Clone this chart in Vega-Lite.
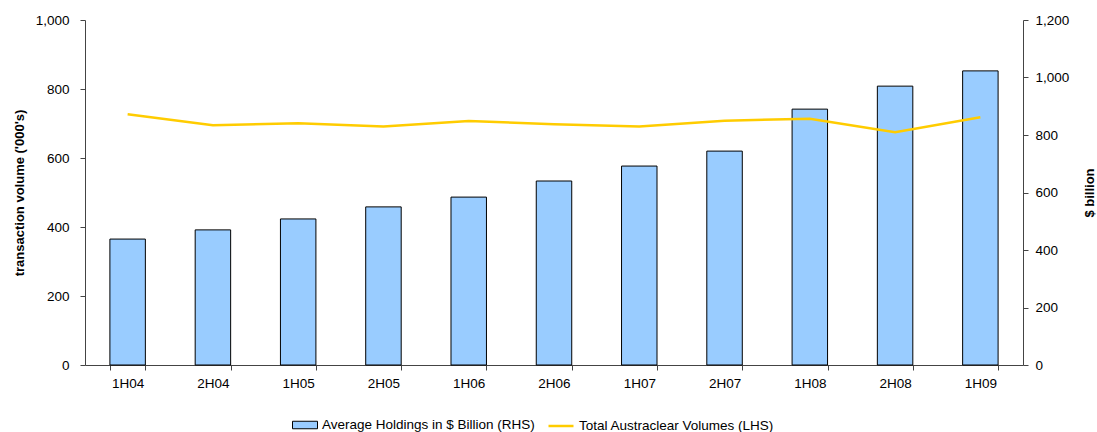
{
  "$schema": "https://vega.github.io/schema/vega-lite/v6.json",
  "width": 938,
  "height": 345,
  "autosize": {"type": "none"},
  "padding": {"left": 85, "top": 20, "right": 74, "bottom": 67},
  "background": "white",
  "config": {
    "font": "Liberation Sans",
    "view": {"stroke": null},
    "axis": {"labelFont": "Liberation Sans", "labelFontSize": 13.5, "labelColor": "#000", "titleFont": "Liberation Sans", "titleFontSize": 13, "titleFontWeight": "bold", "titleColor": "#000", "domainColor": "#444", "tickColor": "#444", "grid": false},
    "legend": {"labelFont": "Liberation Sans", "labelFontSize": 13.5, "labelColor": "#000", "labelLimit": 0, "title": null}
  },
  "data": {"values": [
    {"period": "1H04", "holdings": 438, "volume": 727},
    {"period": "2H04", "holdings": 470, "volume": 695},
    {"period": "1H05", "holdings": 508, "volume": 701},
    {"period": "2H05", "holdings": 550, "volume": 691},
    {"period": "1H06", "holdings": 584, "volume": 707},
    {"period": "2H06", "holdings": 640, "volume": 698},
    {"period": "1H07", "holdings": 692, "volume": 691},
    {"period": "2H07", "holdings": 744, "volume": 708},
    {"period": "1H08", "holdings": 890, "volume": 714},
    {"period": "2H08", "holdings": 970, "volume": 675},
    {"period": "1H09", "holdings": 1023, "volume": 718}
  ]},
  "encoding": {
    "x": {"field": "period", "type": "nominal", "sort": null,
      "scale": {"paddingInner": 0.584, "paddingOuter": 0.292},
      "axis": {"title": null, "labelAngle": 0, "tickBand": "extent", "tickSize": 5, "labelPadding": 6}}
  },
  "layer": [
    {
      "mark": {"type": "bar", "stroke": "#000", "strokeWidth": 1},
      "encoding": {
        "y": {"field": "holdings", "type": "quantitative",
          "scale": {"domain": [0, 1200]},
          "axis": {"orient": "right", "title": "$ billion", "titleAngle": 270, "titlePadding": 28, "labelPadding": 7, "format": ",.0f", "values": [0, 200, 400, 600, 800, 1000, 1200], "tickSize": 5}},
        "fill": {"datum": "Average Holdings in $ Billion (RHS)", "type": "nominal",
          "scale": {"range": ["#99CCFF"]},
          "legend": {"orient": "none", "legendX": 207, "legendY": 392, "direction": "horizontal",
            "symbolType": "M-1,-0.3L1,-0.3L1,0.3L-1,0.3Z", "symbolSize": 625, "symbolStrokeColor": "#000", "symbolStrokeWidth": 1, "symbolOpacity": 1, "labelOffset": 4}}
      }
    },
    {
      "mark": {"type": "line", "strokeWidth": 2.5},
      "encoding": {
        "y": {"field": "volume", "type": "quantitative",
          "scale": {"domain": [0, 1000]},
          "axis": {"orient": "left", "title": "transaction volume ('000's)", "titlePadding": 9, "labelPadding": 11, "format": ",.0f", "values": [0, 200, 400, 600, 800, 1000], "tickSize": 5}},
        "stroke": {"datum": "Total Austraclear Volumes (LHS)", "type": "nominal",
          "scale": {"range": ["#FFCC00"]},
          "legend": {"orient": "none", "legendX": 462, "legendY": 392, "direction": "horizontal",
            "symbolType": "stroke", "symbolSize": 625, "symbolStrokeWidth": 2.5, "labelOffset": 4}}
      }
    }
  ],
  "resolve": {"scale": {"y": "independent"}}
}
